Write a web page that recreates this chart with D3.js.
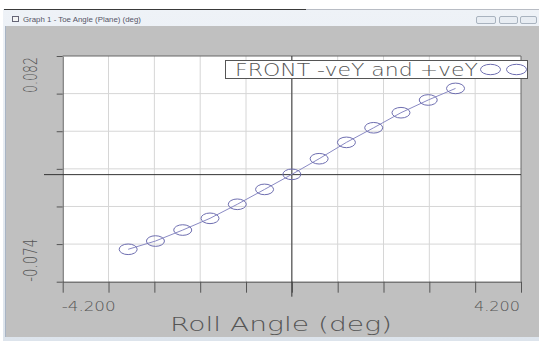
<!DOCTYPE html>
<html><head><meta charset="utf-8">
<script src="https://cdn.jsdelivr.net/npm/d3@7"></script>
<style>html,body{margin:0;padding:0;background:#fff;}svg{display:block;}</style>
</head><body>
<script>
// ---- data ----
const windowTitle = "Graph 1 - Toe Angle (Plane) (deg)";
const xDomain = [-4.2, 4.2];
const yDomain = [-0.074, 0.082];
const xTickLabels = ["-4.200", "4.200"];
const yTickLabels = ["0.082", "-0.074"];
const xTitle = "Roll Angle (deg)";
const legendLabel = "FRONT -veY and +veY";
const rollAngle = [-3, -2.5, -2, -1.5, -1, -0.5, 0, 0.5, 1, 1.5, 2, 2.5, 3];
const toeAngle = [-0.0516, -0.0459, -0.0383, -0.0302, -0.0205, -0.0102, 0.0002, 0.0110, 0.0223, 0.0324, 0.0428, 0.0516, 0.0596];

const W = 539, H = 341;
const svg = d3.select("body").append("svg").attr("width", W).attr("height", H);

// window chrome
svg.append("rect").attr("x",0).attr("y",0).attr("width",W).attr("height",H).attr("fill","#ffffff");
const tb = svg.append("defs").append("linearGradient").attr("id","tb").attr("x1",0).attr("y1",0).attr("x2",0).attr("y2",1);
tb.append("stop").attr("offset","0").attr("stop-color","#eef2f7");
tb.append("stop").attr("offset","1").attr("stop-color","#dde4ec");
svg.append("rect").attr("x",3).attr("y",9).attr("width",W-3).attr("height",H-9).attr("fill","url(#tb)");
svg.append("line").attr("x1",4).attr("x2",306).attr("y1",9.5).attr("y2",9.5).attr("stroke","#3a3a3a").attr("stroke-width",1);
svg.append("line").attr("x1",306).attr("x2",W).attr("y1",9.5).attr("y2",9.5).attr("stroke","#b8bcc4").attr("stroke-width",1);
svg.append("rect").attr("x",12.5).attr("y",16.5).attr("width",6).attr("height",5).attr("fill","#f4f4f4").attr("stroke","#667");
svg.append("text").attr("x",23).attr("y",21.5).attr("font-family","Liberation Sans, Arial, sans-serif")
  .attr("font-size",7.2).attr("fill","#556").attr("textLength",118).attr("lengthAdjust","spacingAndGlyphs").text(windowTitle);
[[476,19],[499,18],[520,16]].forEach(([bx,bw])=>{
  svg.append("rect").attr("x",bx+0.5).attr("y",16.5).attr("width",bw).attr("height",7).attr("rx",1.5)
    .attr("fill","#e8edf3").attr("stroke","#a9b3bf");
});
// grey client area
svg.append("rect").attr("x",6).attr("y",26).attr("width",W-6).attr("height",311).attr("fill","#c0c0c0");
svg.append("line").attr("x1",5.5).attr("x2",5.5).attr("y1",26).attr("y2",337).attr("stroke","#a8b4c4");

// ---- scales ----
const x = d3.scaleLinear().domain(xDomain).range([62.7, 521]);
const y = d3.scaleLinear().domain(yDomain).range([281.7, 56]);
const xTicks = d3.range(11).map(i => xDomain[0] + i*(xDomain[1]-xDomain[0])/10);
const yTicks = d3.range(7).map(i => yDomain[0] + i*(yDomain[1]-yDomain[0])/6);

// plot background
svg.append("rect").attr("x",x(xDomain[0])).attr("y",y(yDomain[1]))
  .attr("width",x(xDomain[1])-x(xDomain[0])).attr("height",y(yDomain[0])-y(yDomain[1])).attr("fill","#ffffff");

// gridlines
svg.append("g").selectAll("line").data(xTicks.slice(1,-1)).join("line")
  .attr("x1",d=>x(d)).attr("x2",d=>x(d)).attr("y1",y(yDomain[1])).attr("y2",y(yDomain[0]))
  .attr("stroke","#d6d6d6").attr("stroke-width",1);
svg.append("g").selectAll("line").data(yTicks.slice(1,-1)).join("line")
  .attr("x1",x(xDomain[0])).attr("x2",x(xDomain[1])).attr("y1",d=>y(d)).attr("y2",d=>y(d))
  .attr("stroke","#d6d6d6").attr("stroke-width",1);

// axes (ticks only)
const xAxis = svg.append("g").attr("transform",`translate(0,${y(yDomain[0])})`)
  .call(d3.axisBottom(x).tickValues(xTicks).tickSize(11).tickSizeOuter(0).tickFormat(""));
const yAxis = svg.append("g").attr("transform",`translate(${x(xDomain[0])},0)`)
  .call(d3.axisLeft(y).tickValues(yTicks).tickSize(6).tickSizeOuter(0).tickFormat(""));
[xAxis,yAxis].forEach(a=>{a.selectAll("line").attr("stroke","#555");a.select(".domain").attr("stroke","#555");});

// frame top/right
svg.append("line").attr("x1",x(xDomain[0])).attr("x2",x(xDomain[1])).attr("y1",y(yDomain[1])).attr("y2",y(yDomain[1])).attr("stroke","#666");
svg.append("line").attr("x1",x(xDomain[1])).attr("x2",x(xDomain[1])).attr("y1",y(yDomain[1])).attr("y2",y(yDomain[0])).attr("stroke","#666");

// zero lines
svg.append("line").attr("x1",44).attr("x2",x(xDomain[1])).attr("y1",y(0)).attr("y2",y(0)).attr("stroke","#333");
svg.append("line").attr("x1",x(0)).attr("x2",x(0)).attr("y1",y(yDomain[1])).attr("y2",y(yDomain[0])+15).attr("stroke","#333");

// tick labels
const thin = "DejaVu Sans, Liberation Sans, sans-serif";
svg.append("text").attr("x",x(xDomain[0])-1).attr("y",311).attr("font-family",thin).attr("font-weight",200).attr("font-size",14)
  .attr("fill","#555").attr("textLength",54).attr("lengthAdjust","spacingAndGlyphs").text(xTickLabels[0]);
svg.append("text").attr("x",x(xDomain[1])-1).attr("y",311).attr("text-anchor","end").attr("font-family",thin).attr("font-weight",200).attr("font-size",14)
  .attr("fill","#555").attr("textLength",46).attr("lengthAdjust","spacingAndGlyphs").text(xTickLabels[1]);
svg.append("text").attr("transform",`translate(37,${y(yDomain[1])+1}) rotate(-90)`).attr("text-anchor","end")
  .attr("font-family",thin).attr("font-weight",200).attr("font-size",20).attr("fill","#555")
  .attr("textLength",36).attr("lengthAdjust","spacingAndGlyphs").text(yTickLabels[0]);
svg.append("text").attr("transform",`translate(37,${y(yDomain[0])}) rotate(-90)`).attr("text-anchor","start")
  .attr("font-family",thin).attr("font-weight",200).attr("font-size",20).attr("fill","#555")
  .attr("textLength",43).attr("lengthAdjust","spacingAndGlyphs").text(yTickLabels[1]);

// axis title
svg.append("text").attr("x",170).attr("y",331).attr("font-family",thin).attr("font-weight",200).attr("font-size",20)
  .attr("fill","#555").attr("textLength",222).attr("lengthAdjust","spacingAndGlyphs").text(xTitle);

// series
const lineColor = "#8a8ac4", markColor = "#6e6eb0";
const pts = rollAngle.map((r,i)=>[r,toeAngle[i]]);
svg.append("path").datum(pts).attr("fill","none").attr("stroke",lineColor).attr("stroke-width",1)
  .attr("d",d3.line().x(d=>x(d[0])).y(d=>y(d[1])));
svg.append("g").selectAll("ellipse").data(pts).join("ellipse")
  .attr("cx",d=>x(d[0])).attr("cy",d=>y(d[1])).attr("rx",9).attr("ry",5.3)
  .attr("fill","none").attr("stroke",markColor).attr("stroke-width",1);

// legend
svg.append("rect").attr("x",225.5).attr("y",60.5).attr("width",302).attr("height",18)
  .attr("fill","#ffffff").attr("stroke","#555");
svg.append("text").attr("x",235).attr("y",75.5).attr("font-family",thin).attr("font-weight",200).attr("font-size",17)
  .attr("fill","#555").attr("textLength",243).attr("lengthAdjust","spacingAndGlyphs").text(legendLabel);
[490.5,516.5].forEach(cx=>{
  svg.append("ellipse").attr("cx",cx).attr("cy",69.5).attr("rx",10).attr("ry",5.2)
    .attr("fill","none").attr("stroke",markColor).attr("stroke-width",1);
});
</script>
</body></html>
